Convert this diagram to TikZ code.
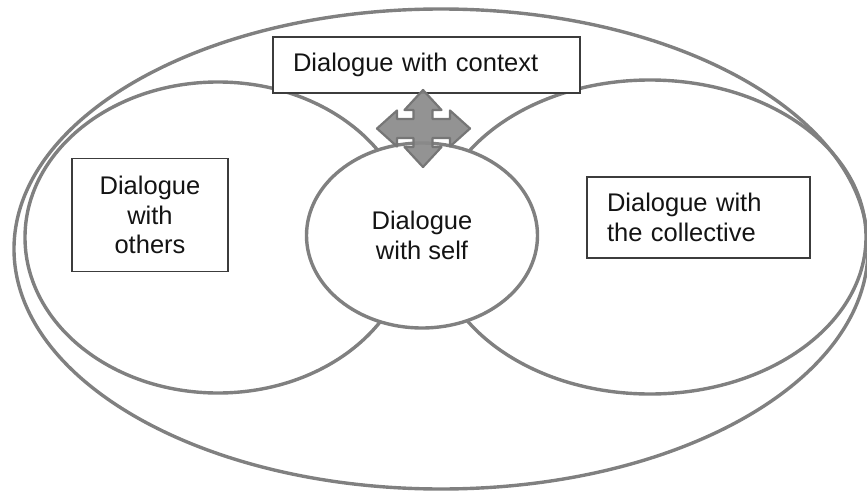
\documentclass[tikz,border=0pt]{standalone}
\usepackage{fontspec}
\setmainfont{Liberation Sans}
\usetikzlibrary{shapes.geometric}
\definecolor{ringgray}{RGB}{128,128,128}
\definecolor{boxline}{RGB}{60,60,60}
\definecolor{arrowfill}{RGB}{138,138,138}
\definecolor{arrowline}{RGB}{118,118,118}
\definecolor{textcol}{RGB}{20,20,20}
\begin{document}
\begin{tikzpicture}[x=1pt,y=-1pt,
  ring/.style={ellipse, draw=ringgray, line width=3.4pt, inner sep=0pt},
  tbox/.style={rectangle, draw=boxline, line width=1.2pt, fill=white, inner ysep=0pt,
    font=\fontsize{25.5}{29.5}\selectfont, text=textcol},
  quad/.style={fill=arrowfill, draw=arrowline, line width=2.2pt, line join=round, fill opacity=0.92},
]
\useasboundingbox (0,0) rectangle (867,495);
% outer context ellipse
\node[ring, minimum width=854pt, minimum height=480pt] (outer) at (441,249) {};
% others and collective ellipses
\node[ring, minimum width=386pt, minimum height=311pt] (lefte) at (218,237.5) {};
\node[ring, minimum width=432pt, minimum height=314pt] (righte) at (650,237) {};
% self ellipse
\node[ring, fill=white, minimum width=231pt, minimum height=185pt, align=center,
  font=\fontsize{25.5}{29.5}\selectfont, text=textcol] (self) at (422,235.5) {Dialogue\\with self};
% boxes
\node[tbox, minimum width=307pt, minimum height=56pt, inner xsep=20pt, text width=267pt, align=left]
  (ctx) at (426.5,65) {Dialogue with context};
\node[tbox, minimum width=156pt, minimum height=113pt, inner xsep=10pt, text width=136pt, align=center]
  (others) at (150,215) {Dialogue\\with\\others};
\node[tbox, minimum width=223pt, minimum height=81pt, inner xsep=20pt, text width=183pt, align=left]
  (coll) at (698.5,217.5) {Dialogue with\\the collective};
% four-way arrow
\coordinate (qc) at (423,128);
\draw[quad] (423,90) -- (441.5,110) -- (432.5,110) -- (432.5,119) -- (450,119) -- (450,110.5)
  -- (470,128.5) -- (450,146.5) -- (450,138) -- (432.5,138) -- (432.5,147) -- (441.5,147)
  -- (423,167) -- (404.5,147) -- (413.5,147) -- (413.5,138) -- (397,138) -- (397,146.5)
  -- (377,128.5) -- (397,110.5) -- (397,119) -- (413.5,119) -- (413.5,110) -- (404.5,110) -- cycle;
\end{tikzpicture}
\end{document}
